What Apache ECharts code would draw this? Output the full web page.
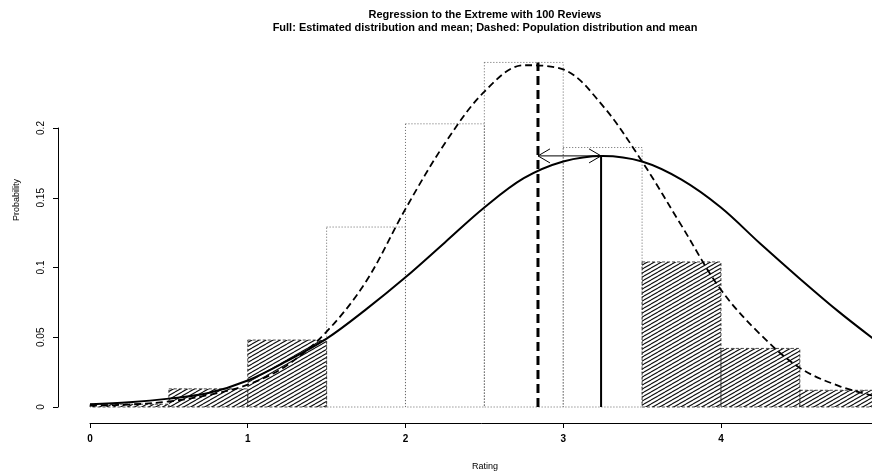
<!DOCTYPE html>
<html>
<head>
<meta charset="utf-8">
<script src="https://cdn.jsdelivr.net/npm/echarts@6/dist/echarts.min.js"></script>
<style>
  html, body { margin: 0; padding: 0; background: #fff; }
  #chart { width: 872px; height: 471px; }
</style>
</head>
<body>
<div id="chart"></div>
<script>
// histogram bins: [from, to, height]
var sampleBins = [
    [0, 0.5, 0.002], [0.5, 1, 0.013], [1, 1.5, 0.048],
    [3.5, 4, 0.104], [4, 4.5, 0.042], [4.5, 5, 0.012]
];
var popBins = [
    [1.5, 2, 0.129], [2, 2.5, 0.203], [2.5, 3, 0.247], [3, 3.5, 0.186]
];

// curves
var estCurve = [
    [0, 0.002], [0.25, 0.0034], [0.5, 0.006], [0.75, 0.010], [1, 0.019],
    [1.25, 0.033], [1.5, 0.049], [1.75, 0.070], [2, 0.093], [2.25, 0.118],
    [2.5, 0.143], [2.75, 0.164], [3, 0.176], [3.25, 0.180], [3.5, 0.176],
    [3.75, 0.163], [4, 0.143], [4.25, 0.117], [4.5, 0.092], [4.75, 0.068],
    [5, 0.046]
];
var popCurve = [
    [0, 0.001], [0.25, 0.0018], [0.5, 0.004], [0.75, 0.0086], [1, 0.016],
    [1.25, 0.030], [1.5, 0.054], [1.75, 0.090], [2, 0.142], [2.25, 0.189],
    [2.5, 0.226], [2.75, 0.245], [3, 0.242], [3.25, 0.216], [3.5, 0.176],
    [3.75, 0.130], [4, 0.084], [4.25, 0.052], [4.5, 0.028], [4.75, 0.015],
    [5, 0.007]
];

var estMean = 3.24, estPeak = 0.180;
var popMean = 2.84, popPeak = 0.247;

var xTicks = [0, 1, 2, 3, 4, 5];
var yTicks = [0, 0.05, 0.1, 0.15, 0.2];

function makeHatch() {
    var c = document.createElement('canvas');
    c.width = 7; c.height = 4;
    var g = c.getContext('2d');
    g.strokeStyle = '#111';
    g.lineWidth = 1.1;
    g.beginPath();
    for (var k = -1; k <= 1; k++) {
        g.moveTo(0, 4 + 4 * k);
        g.lineTo(7, 4 * k);
    }
    g.stroke();
    return c;
}
var hatch = makeHatch();

function binRender(filled) {
    return function (params, api) {
        var p0 = api.coord([api.value(0), 0]);
        var p1 = api.coord([api.value(1), api.value(2)]);
        return {
            type: 'rect',
            shape: { x: p0[0], y: p1[1], width: p1[0] - p0[0], height: p0[1] - p1[1] },
            style: filled
                ? { fill: { image: hatch, repeat: 'repeat' }, stroke: '#222', lineWidth: 0.8, lineDash: [3, 2] }
                : { fill: null, stroke: '#666', lineWidth: 1, lineDash: [1, 2] }
        };
    };
}

function arrowRender(params, api) {
    var a = api.coord([api.value(0), api.value(2)]);
    var b = api.coord([api.value(1), api.value(2)]);
    var h = 12, w = 7;
    return {
        type: 'group',
        children: [
            { type: 'line', shape: { x1: a[0], y1: a[1], x2: b[0], y2: b[1] }, style: { stroke: '#000', lineWidth: 1 } },
            { type: 'polyline', shape: { points: [[a[0] + h, a[1] - w], [a[0], a[1]], [a[0] + h, a[1] + w]] }, style: { stroke: '#000', lineWidth: 1, fill: null } },
            { type: 'polyline', shape: { points: [[b[0] - h, b[1] - w], [b[0], b[1]], [b[0] - h, b[1] + w]] }, style: { stroke: '#000', lineWidth: 1, fill: null } }
        ]
    };
}

var chart = echarts.init(document.getElementById('chart'));
var font = 'Liberation Sans, Arial, sans-serif';

var option = {
    backgroundColor: '#fff',
    animation: false,
    grid: [
        // data area: x 0..5, y 0..0.26
        { left: 90, right: -6.7, top: 44.3, bottom: 64, outerBoundsMode: 'none', containLabel: false },
        // x axis drawn below the data
        { left: 90, right: -6.7, top: 300, bottom: 48, outerBoundsMode: 'none', containLabel: false },
        // y axis drawn left of the data
        { left: 58, width: 100, top: 128, bottom: 64, outerBoundsMode: 'none', containLabel: false }
    ],
    xAxis: [{
        gridIndex: 0, type: 'value', min: 0, max: 5, show: false
    }, {
        gridIndex: 1, type: 'value', min: xTicks[0], max: xTicks[xTicks.length - 1], interval: 1,
        axisLine: { show: true, lineStyle: { color: '#000', width: 1 } },
        axisTick: { show: true, length: 5, lineStyle: { color: '#000' } },
        axisLabel: { margin: 11, fontSize: 10, fontFamily: font, color: '#000', fontWeight: 'bold' },
        splitLine: { show: false }
    }, {
        gridIndex: 2, type: 'value', min: 0, max: 1, show: false
    }],
    yAxis: [{
        gridIndex: 0, type: 'value', min: 0, max: 0.26, show: false
    }, {
        gridIndex: 1, type: 'value', min: 0, max: 1, show: false
    }, {
        gridIndex: 2, type: 'value', min: yTicks[0], max: yTicks[yTicks.length - 1], interval: 0.05,
        axisLine: { show: true, lineStyle: { color: '#000', width: 1 } },
        axisTick: { show: true, length: 5, lineStyle: { color: '#000' } },
        axisLabel: { rotate: 90, margin: 12, fontSize: 10, fontFamily: font, color: '#000' },
        splitLine: { show: false }
    }],
    graphic: [
        { type: 'text', x: 485, y: 9, style: { text: 'Regression to the Extreme with 100 Reviews', font: 'bold 11px ' + font, fill: '#000', textAlign: 'center' } },
        { type: 'text', x: 485, y: 22, style: { text: 'Full: Estimated distribution and mean; Dashed: Population distribution and mean', font: 'bold 11px ' + font, fill: '#000', textAlign: 'center' } },
        { type: 'text', x: 485, y: 462, style: { text: 'Rating', font: '9px ' + font, fill: '#000', textAlign: 'center' } },
        { type: 'text', x: 12, y: 200, rotation: Math.PI / 2, style: { text: 'Probability', font: '9px ' + font, fill: '#000', textAlign: 'center' } }
    ],
    series: [
        { type: 'custom', xAxisIndex: 0, yAxisIndex: 0, renderItem: binRender(false), data: popBins, z: 1 },
        { type: 'custom', xAxisIndex: 0, yAxisIndex: 0, renderItem: binRender(true), data: sampleBins, z: 2 },
        {
            type: 'line', xAxisIndex: 0, yAxisIndex: 0, data: popCurve, smooth: 0.35, symbol: 'none', z: 3,
            lineStyle: { color: '#000', width: 1.8, type: [7, 4] }
        },
        {
            type: 'line', xAxisIndex: 0, yAxisIndex: 0, data: estCurve, smooth: 0.35, symbol: 'none', z: 4,
            lineStyle: { color: '#000', width: 2 }
        },
        {
            type: 'line', xAxisIndex: 0, yAxisIndex: 0, data: [[popMean, 0], [popMean, popPeak]], symbol: 'none', z: 5,
            lineStyle: { color: '#000', width: 3, type: [9, 5] }
        },
        {
            type: 'line', xAxisIndex: 0, yAxisIndex: 0, data: [[estMean, 0], [estMean, estPeak]], symbol: 'none', z: 5,
            lineStyle: { color: '#000', width: 2 }
        },
        { type: 'custom', xAxisIndex: 0, yAxisIndex: 0, renderItem: arrowRender, data: [[popMean, estMean, estPeak]], z: 6 }
    ]
};
chart.setOption(option);
</script>
</body>
</html>
